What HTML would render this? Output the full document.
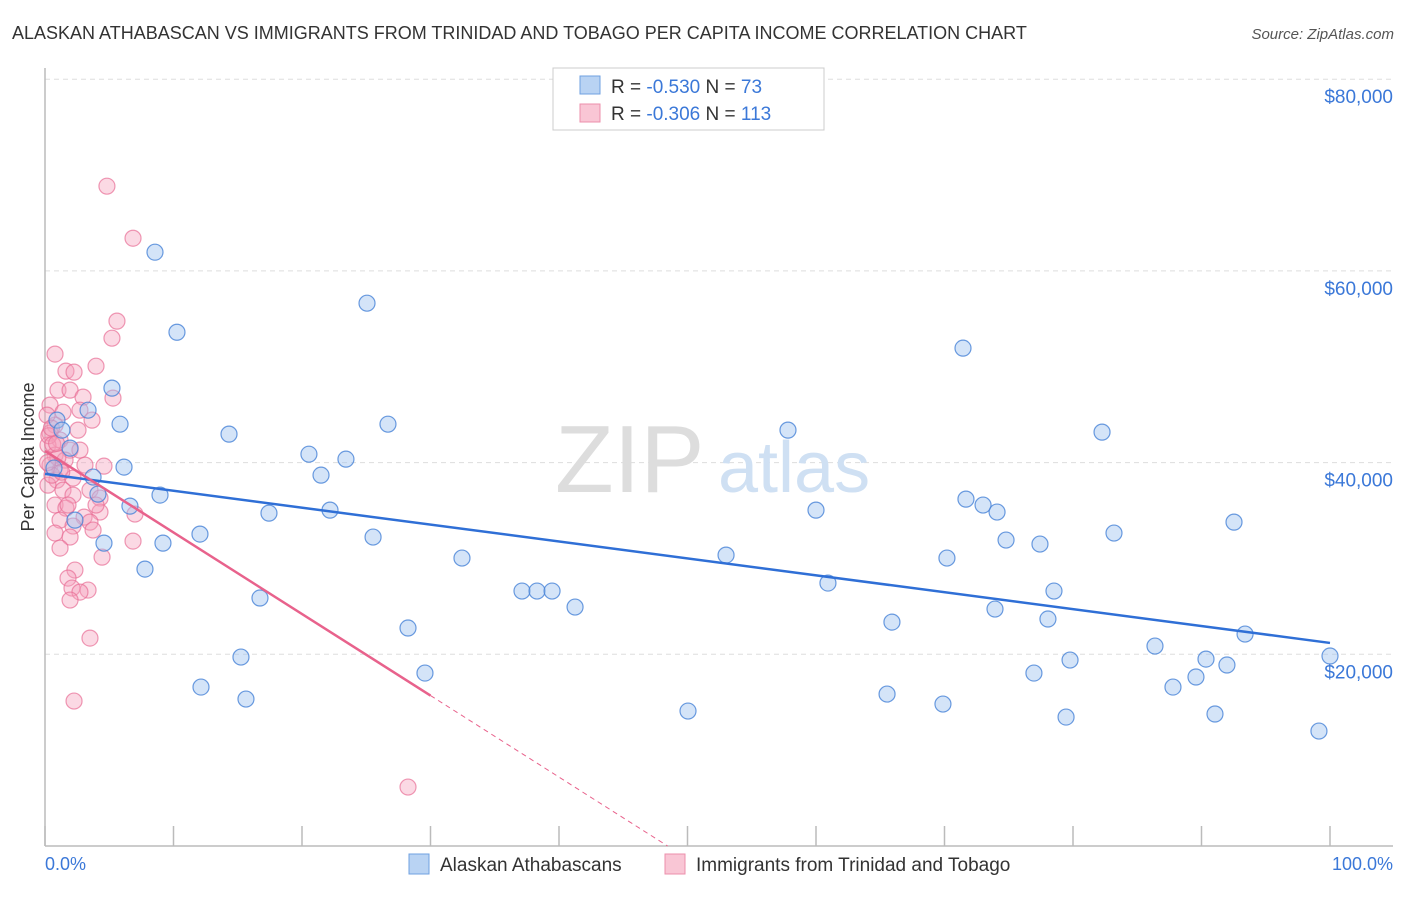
<!DOCTYPE html>
<html><head><meta charset="utf-8"><style>
body{margin:0;background:#fff;font-family:"Liberation Sans",sans-serif;}
svg text{font-family:"Liberation Sans",sans-serif;}
</style></head><body>
<svg width="1406" height="892" viewBox="0 0 1406 892" xmlns="http://www.w3.org/2000/svg">
<text x="12" y="39" font-size="18" fill="#333">ALASKAN ATHABASCAN VS IMMIGRANTS FROM TRINIDAD AND TOBAGO PER CAPITA INCOME CORRELATION CHART</text>
<text x="1394" y="39" font-size="15" fill="#555" font-style="italic" text-anchor="end">Source: ZipAtlas.com</text>
<g id="grid"></g>
<line x1="45" y1="68" x2="45" y2="846" stroke="#bbb" stroke-width="1.5"/>
<line x1="45" y1="846" x2="1393" y2="846" stroke="#bbb" stroke-width="1.5"/>
<g id="xticks"></g>
<text x="555" y="492" font-size="96" fill="#ddd" font-family="Liberation Serif">ZIP</text>
<text x="718" y="492" font-size="72" fill="#cfe0f3">atlas</text>
<g id="ylabels"></g>
<text x="34" y="457" font-size="18" fill="#333" text-anchor="middle" transform="rotate(-90 34 457)">Per Capita Income</text>
<text x="45" y="870" font-size="18" fill="#3b78d8">0.0%</text>
<text x="1393" y="870" font-size="18" fill="#3b78d8" text-anchor="end">100.0%</text>
<g id="pts"></g>
<g id="lines"></g>
<g>
<rect x="553" y="68" width="271" height="62" fill="#fff" stroke="#ccc"/>
<rect x="580" y="76" width="20" height="18" fill="#b9d3f3" stroke="#6fa0e0"/>
<rect x="580" y="104" width="20" height="18" fill="#f9c6d5" stroke="#ec8fab"/>
<text x="611" y="93" font-size="19" fill="#333">R = <tspan fill="#3b78d8">-0.530</tspan>   N = <tspan fill="#3b78d8"> 73</tspan></text>
<text x="611" y="120" font-size="19" fill="#333">R = <tspan fill="#3b78d8">-0.306</tspan>   N = <tspan fill="#3b78d8">113</tspan></text>
</g>
<g>
<rect x="409" y="854" width="20" height="20" fill="#b9d3f3" stroke="#6fa0e0"/>
<text x="440" y="871" font-size="19" fill="#333">Alaskan Athabascans</text>
<rect x="665" y="854" width="20" height="20" fill="#f9c6d5" stroke="#ec8fab"/>
<text x="696" y="871" font-size="19" fill="#333">Immigrants from Trinidad and Tobago</text>
</g>
</svg>
<script>
const yTicks=[20000,40000,60000,80000];
const yTickLabels=["$20,000","$40,000","$60,000","$80,000"];
const xTicks=[0,10,20,30,40,50,60,70,80,90,100];
const blueX=[8.56,10.27,25.06,71.44,5.21,3.35,5.84,14.32,26.69,20.54,23.42,21.48,6.15,3.74,4.12,8.95,6.61,17.43,22.18,12.06,25.53,9.18,4.59,7.78,32.45,53.0,60.0,57.82,60.93,82.26,71.67,73.0,74.09,74.79,77.43,70.19,83.19,92.53,37.12,38.29,39.46,41.25,16.73,28.25,65.91,73.93,78.52,78.05,93.39,15.25,29.57,12.14,15.64,50.04,65.53,69.88,76.96,79.77,79.46,86.38,87.78,89.57,90.35,91.98,91.05,99.14,100,0.93,1.32,0.7,1.95,2.33];
const blueY=[61950,53600,56630,51940,47770,45470,44010,42970,44010,40880,40360,38690,39530,38490,36710,36610,35460,34730,35040,32540,32230,31600,31600,28890,30040,30350,35040,43390,27430,43180,36190,35570,34840,31920,31500,30040,32650,33790,26600,26600,26600,24930,25870,22740,23360,24720,26600,23680,22110,19710,18040,16580,15330,14080,15850,14810,18040,19400,13450,20860,16580,17630,19500,18880,13770,11990,19820,44430,43390,39430,41510,34000];
const pinkX=[4.82,6.85,5.6,5.21,0.78,3.97,1.63,2.26,1.01,1.95,5.29,2.96,0.39,2.72,3.66,1.40,0.78,0.39,1.17,0.23,1.95,2.72,0.78,1.56,0.39,4.59,3.11,1.17,2.18,0.93,0.23,1.40,3.5,2.18,4.28,0.78,1.63,4.28,3.04,1.17,7.0,2.18,3.5,0.78,1.95,3.74,6.85,1.17,4.44,2.33,1.79,2.1,3.35,2.72,1.95,3.5,2.26,28.25,0.16,0.54,2.57,1.79,3.97,0.3,0.6,1.0,0.5,0.2,0.9,1.3];
const pinkY=[68840,63410,54760,52980,51320,50060,49540,49440,47560,47560,46730,46830,46000,45470,44430,45260,43910,43080,42350,41820,41300,41300,40780,40260,39740,39630,39740,39220,38380,38170,37650,37130,37130,36610,36300,35570,35250,34840,34310,34000,34630,33380,33790,32650,32230,32960,31810,31080,30140,28790,27950,26910,26700,26490,25660,21690,15120,6150,44950,38690,43390,35570,35570,42800,41900,40500,43600,40000,42000,39000];
const NS='http://www.w3.org/2000/svg';
const X=p=>45+p*12.85, Y=v=>846-v/20000*191.7;
function mk(t,a,parent){const e=document.createElementNS(NS,t);for(const k in a)e.setAttribute(k,a[k]);document.getElementById(parent).appendChild(e);return e;}
yTicks.forEach((v,i)=>{
 const l=mk('line',{x1:45,x2:1393,y1:Y(v),y2:Y(v),stroke:'#ddd','stroke-dasharray':'5,4'},'grid');
 
 
 const t=mk('text',{x:1393,y:Y(v)+24,'font-size':19,fill:'#3b78d8','text-anchor':'end'},'ylabels');
 t.textContent=yTickLabels[i];
 
 
});
xTicks.forEach(p=>{
 const l=mk('line',{x1:X(p),x2:X(p),y1:826,y2:846,stroke:'#bbb','stroke-width':1.5},'xticks');
 
 
});
pinkX.forEach((p,i)=>{
 const c=mk('circle',{cx:X(p),cy:Y(pinkY[i]),r:8,fill:'rgba(246,160,188,0.4)',stroke:'rgba(232,110,150,0.7)','stroke-width':1.2},'pts');
 
 
});
blueX.forEach((p,i)=>{
 const c=mk('circle',{cx:X(p),cy:Y(blueY[i]),r:8,fill:'rgba(160,196,240,0.45)',stroke:'rgba(70,130,215,0.8)','stroke-width':1.2},'pts');
 
 
});
function fit(xs,ys){const n=xs.length;let mx=0,my=0;xs.forEach((x,i)=>{mx+=x;my+=ys[i];});mx/=n;my/=n;let sxy=0,sxx=0;xs.forEach((x,i)=>{sxy+=(x-mx)*(ys[i]-my);sxx+=(x-mx)*(x-mx);});const b=sxy/sxx;return [my-b*mx,b];}
const [ba,bb]=fit(blueX,blueY);
let l=mk('line',{x1:X(0),y1:Y(ba),x2:X(100),y2:Y(ba+bb*100),stroke:'#2f6fd6','stroke-width':2.5},'lines');


const [pa,pb]=fit(pinkX,pinkY);
const pend=Math.min(30,-pa/pb);
l=mk('line',{x1:X(0),y1:Y(pa),x2:X(30),y2:Y(pa+pb*30),stroke:'#e8628c','stroke-width':2.5},'lines');


const zx=-pa/pb;
l=mk('line',{x1:X(30),y1:Y(pa+pb*30),x2:X(zx),y2:Y(0),stroke:'#e8628c','stroke-width':1,'stroke-dasharray':'5,4'},'lines');


</script>
</body></html>
